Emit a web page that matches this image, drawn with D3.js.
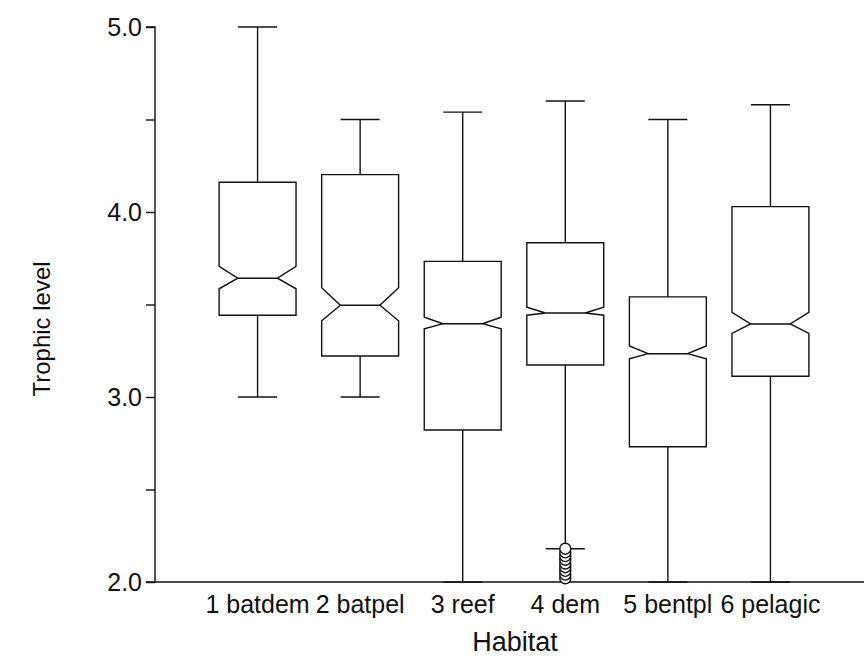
<!DOCTYPE html>
<html>
<head>
<meta charset="utf-8">
<script src="https://cdn.jsdelivr.net/npm/d3@7"></script>
<style>
  html, body { margin: 0; padding: 0; background: #fff; }
  svg { display: block; }
  text { font-family: "Liberation Sans", Arial, sans-serif; fill: #111; }
</style>
</head>
<body>
<svg id="chart" width="864" height="659"></svg>
<script>
// Habitat groups and their notched box-plot statistics (trophic level)
const categories = ["1 batdem", "2 batpel", "3 reef", "4 dem", "5 bentpl", "6 pelagic"];
const whiskerLow  = [3.00, 3.00, 2.00, 2.18, 2.00, 2.00];
const quartile1   = [3.442, 3.222, 2.822, 3.173, 2.731, 3.112];
const notchLow    = [3.585, 3.412, 3.369, 3.442, 3.207, 3.344];
const medians     = [3.642, 3.496, 3.396, 3.454, 3.234, 3.395];
const notchHigh   = [3.706, 3.591, 3.431, 3.485, 3.276, 3.458];
const quartile3   = [4.161, 4.202, 3.733, 3.834, 3.541, 4.029];
const whiskerHigh = [5.00, 4.50, 4.54, 4.60, 4.50, 4.58];

// Outlying values below the lower whisker of "4 dem"
const outlierGroup = 3;
const outliers = [2.18, 2.16, 2.14, 2.12, 2.10, 2.08, 2.06, 2.04, 2.02];

const yTicks = [2.0, 2.5, 3.0, 3.5, 4.0, 4.5, 5.0];

const svg = d3.select("#chart");
const ink = "#111";
const lw = 1.4;
const fontStack = '"Liberation Sans", Arial, sans-serif';

const x = d3.scaleLinear().domain([0, 7]).range([155, 873]);
const y = d3.scaleLinear().domain([2, 5]).range([582, 27]);

const unit = x(1) - x(0);
const halfBox = unit * 0.375;
const halfCap = unit * 0.19;
const inset = unit * 0.182;

// Axes
const yAxis = d3.axisLeft(y)
  .tickValues(yTicks)
  .tickSize(9)
  .tickPadding(4)
  .tickFormat(d => Number.isInteger(d) ? d3.format(".1f")(d) : "");
const gy = svg.append("g").attr("transform", `translate(${x(0)},0)`).call(yAxis);
gy.select(".domain").attr("stroke", ink).attr("stroke-width", lw).attr("d", `M-9,${y(5)}H0V${y(2)}H-9`);
gy.selectAll(".tick line").attr("stroke", ink).attr("stroke-width", lw);
gy.selectAll(".tick text").style("font-size", "25px").attr("fill", ink)
  .style("font-family", fontStack);

svg.append("line")
  .attr("x1", x(0)).attr("x2", 864)
  .attr("y1", y(2)).attr("y2", y(2))
  .attr("stroke", ink).attr("stroke-width", lw);

// Category labels under each box
svg.append("g").selectAll("text").data(categories).join("text")
  .attr("x", (d, i) => x(i + 1))
  .attr("y", 613)
  .attr("text-anchor", "middle")
  .style("font-size", "25px")
  .text(d => d);

// Axis titles
svg.append("text")
  .attr("x", 515).attr("y", 651)
  .attr("text-anchor", "middle")
  .style("font-size", "27px")
  .text("Habitat");

svg.append("text")
  .attr("transform", `translate(50,329) rotate(-90)`)
  .attr("text-anchor", "middle")
  .style("font-size", "24px")
  .text("Trophic level");

// Boxes
const plot = svg.append("g")
  .attr("fill", "none").attr("stroke", ink).attr("stroke-width", lw);

categories.forEach((c, i) => {
  const cx = x(i + 1);
  const g = plot.append("g");

  // whiskers with end caps
  g.append("line").attr("x1", cx).attr("x2", cx).attr("y1", y(quartile3[i])).attr("y2", y(whiskerHigh[i]));
  g.append("line").attr("x1", cx - halfCap).attr("x2", cx + halfCap).attr("y1", y(whiskerHigh[i])).attr("y2", y(whiskerHigh[i]));
  g.append("line").attr("x1", cx).attr("x2", cx).attr("y1", y(quartile1[i])).attr("y2", y(whiskerLow[i]));
  g.append("line").attr("x1", cx - halfCap).attr("x2", cx + halfCap).attr("y1", y(whiskerLow[i])).attr("y2", y(whiskerLow[i]));

  // notched box outline
  const L = cx - halfBox, R = cx + halfBox;
  const pts = [
    [L, y(quartile3[i])], [R, y(quartile3[i])],
    [R, y(notchHigh[i])], [R - inset, y(medians[i])], [R, y(notchLow[i])],
    [R, y(quartile1[i])], [L, y(quartile1[i])],
    [L, y(notchLow[i])], [L + inset, y(medians[i])], [L, y(notchHigh[i])]
  ];
  g.append("path").attr("d", d3.line()(pts) + "Z").attr("fill", "#fff");

  // median line
  g.append("line")
    .attr("x1", L + inset).attr("x2", R - inset)
    .attr("y1", y(medians[i])).attr("y2", y(medians[i]));
});

// outlier markers
plot.append("g").selectAll("circle").data(outliers.slice().reverse()).join("circle")
  .attr("cx", x(outlierGroup + 1))
  .attr("cy", d => y(d))
  .attr("r", 5.5)
  .attr("fill", "#fff");
</script>
</body>
</html>
